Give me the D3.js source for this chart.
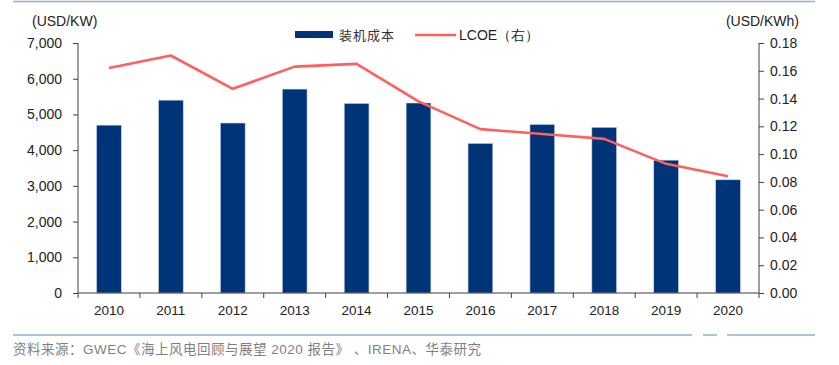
<!DOCTYPE html>
<html><head><meta charset="utf-8">
<script src="https://cdn.jsdelivr.net/npm/d3@7"></script>
<style>body{margin:0;background:#fff}svg{display:block}</style>
</head><body>
<svg id="c" width="839" height="365"></svg>
<script>
const years = ["2010","2011","2012","2013","2014","2015","2016","2017","2018","2019","2020"];
const capex = [4700,5400,4760,5710,5310,5320,4190,4720,4640,3720,3170];
const lcoe = [0.162,0.171,0.147,0.163,0.165,0.138,0.118,0.1145,0.111,0.093,0.084];
const leftTicks = [0,1000,2000,3000,4000,5000,6000,7000];
const rightTicks = [0,0.02,0.04,0.06,0.08,0.10,0.12,0.14,0.16,0.18];
const barName = "装机成本", lineName = "LCOE（右）";
const leftUnit = "(USD/KW)", rightUnit = "(USD/KWh)";
const source = "资料来源：GWEC《海上风电回顾与展望 2020 报告》 、IRENA、华泰研究";

const svg = d3.select("#c");
const L = 78, R = 759, T = 43, B = 293;
const font = "'Liberation Sans', Arial, sans-serif";
const cjk = "'Noto Sans CJK SC', sans-serif";
const mixed = "'Liberation Sans', 'Noto Sans CJK SC', sans-serif";
const axisCol = "#404040";

const x = d3.scaleBand().domain(years).range([L, R]).paddingInner(0.6).paddingOuter(0.3);
const xb = d3.scaleBand().domain(years).range([L, R]).padding(0);
const yL = d3.scaleLinear().domain([0, 7000]).range([B, T]);
const yR = d3.scaleLinear().domain([0, 0.18]).range([B, T]);

// top & bottom rules
svg.append("line").attr("x1",13).attr("x2",815).attr("y1",1.5).attr("y2",1.5)
  .attr("stroke","#95aed0").attr("stroke-width",1.5);
[[13,692],[703,717],[727,815]].forEach(s=>{
  svg.append("line").attr("x1",s[0]).attr("x2",s[1]).attr("y1",335).attr("y2",335)
    .attr("stroke","#95aed0").attr("stroke-width",1.5);
});

// bars
svg.append("g").selectAll("rect").data(years).join("rect")
  .attr("x", d=>x(d)).attr("width", x.bandwidth())
  .attr("y", (d,i)=>yL(capex[i])).attr("height",(d,i)=>B - yL(capex[i]))
  .attr("fill","#003478").attr("stroke","#c9d6ea").attr("stroke-width",0.6);

// line
const line = d3.line().x((d,i)=>x(years[i]) + x.bandwidth()/2).y(d=>yR(d));
svg.append("path").datum(lcoe).attr("d", line).attr("fill","none")
  .attr("stroke","#ff5f5f").attr("stroke-width",2.6).attr("stroke-linejoin","round");

// left axis
const gL = svg.append("g").attr("transform",`translate(${L},0)`)
  .call(d3.axisLeft(yL).tickValues(leftTicks).tickFormat(d3.format(",")).tickSize(5).tickPadding(11));
// right axis
const gR = svg.append("g").attr("transform",`translate(${R},0)`)
  .call(d3.axisRight(yR).tickValues(rightTicks).tickFormat(d3.format(".2f")).tickSize(5).tickPadding(6));
[gL,gR].forEach(g=>{
  g.select(".domain").attr("stroke",axisCol).attr("d", `M0,${T}V${B}`);
  g.selectAll(".tick line").attr("stroke",axisCol);
  g.selectAll("text").attr("font-family",font).attr("font-size",14).attr("fill","#222");
});

// x axis
svg.append("line").attr("x1",L).attr("x2",R).attr("y1",B).attr("y2",B).attr("stroke",axisCol);
const bounds = years.map(d=>xb(d)).concat([R]);
svg.append("g").selectAll("line").data(bounds).join("line")
  .attr("x1",d=>d).attr("x2",d=>d).attr("y1",B).attr("y2",B+5).attr("stroke",axisCol);
svg.append("g").selectAll("text").data(years).join("text")
  .attr("x", d=>x(d)+x.bandwidth()/2).attr("y",315).attr("text-anchor","middle")
  .attr("font-family",font).attr("font-size",13.5).attr("fill","#222").text(d=>d);

// units
svg.append("text").attr("x",32).attr("y",26).attr("font-family",font).attr("font-size",14)
  .attr("fill","#222").text(leftUnit);
svg.append("text").attr("x",799).attr("y",26).attr("text-anchor","end").attr("font-family",font)
  .attr("font-size",14).attr("fill","#222").text(rightUnit);

// legend
svg.append("rect").attr("x",295).attr("y",31).attr("width",38).attr("height",7).attr("fill","#003478");
svg.append("text").attr("x",339).attr("y",40).attr("font-family",cjk).attr("font-size",13)
  .attr("letter-spacing",1).attr("fill","#333").text(barName);
svg.append("line").attr("x1",415).attr("x2",456).attr("y1",35).attr("y2",35)
  .attr("stroke","#ff5f5f").attr("stroke-width",2.6);
svg.append("text").attr("x",459).attr("y",40).attr("font-family",font).attr("font-size",14)
  .attr("fill","#222").text(lineName);

// source
svg.append("text").attr("x",13).attr("y",354).attr("font-family",mixed).attr("font-size",13.5)
  .attr("letter-spacing",0.5).attr("fill","#7f7f7f").text(source);
</script>
</body></html>
